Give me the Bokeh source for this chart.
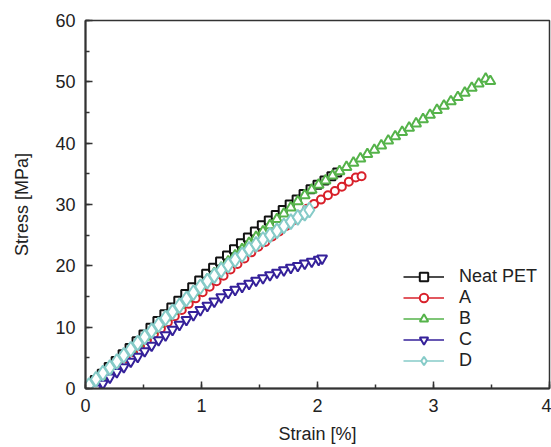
from bokeh.plotting import figure
from bokeh.models import Range1d, SingleIntervalTicker, Legend, LegendItem
from bokeh.embed import file_html
from bokeh.resources import INLINE

# ---- data ----
pet_x = [0.02, 0.08, 0.14, 0.20, 0.26, 0.32, 0.38, 0.44, 0.50, 0.56, 0.62, 0.68, 0.74, 0.80, 0.86, 0.92, 0.98,
         1.04, 1.10, 1.16, 1.22, 1.28, 1.34, 1.40, 1.46, 1.52, 1.58, 1.64, 1.70, 1.76, 1.82, 1.88, 1.94,
         2.00, 2.06, 2.12, 2.17]
pet_y = [0.3, 1.4, 2.4, 3.5, 4.5, 5.6, 6.6, 7.7, 8.8, 9.9, 11.0, 12.1, 13.2, 14.3, 15.4, 16.5, 17.6,
         18.7, 19.7, 20.7, 21.7, 22.7, 23.7, 24.6, 25.6, 26.6, 27.4, 28.3, 29.1, 30.0, 30.8, 31.7, 32.5,
         33.2, 33.9, 34.6, 35.2]

a_x = [0.05, 0.11, 0.17, 0.23, 0.29, 0.35, 0.41, 0.47, 0.53, 0.59, 0.65, 0.71, 0.77, 0.83, 0.89, 0.95,
       1.01, 1.07, 1.13, 1.19, 1.25, 1.31, 1.37, 1.43, 1.49, 1.55, 1.61, 1.67, 1.73, 1.79, 1.85, 1.91,
       1.97, 2.03, 2.09, 2.15, 2.21, 2.27, 2.33, 2.38]
a_y = [0.0, 0.9, 1.9, 2.9, 3.9, 4.9, 5.9, 6.9, 7.9, 8.9, 9.8, 10.8, 11.8, 12.8, 13.8, 14.7,
       15.7, 16.6, 17.5, 18.4, 19.4, 20.3, 21.2, 22.2, 23.1, 23.9, 24.8, 25.6, 26.5, 27.4, 28.2, 29.3,
       30.1, 30.8, 31.5, 32.2, 32.9, 33.7, 34.4, 34.6]

b_x = [0.03, 0.09, 0.15, 0.21, 0.27, 0.33, 0.39, 0.45, 0.51, 0.57, 0.63, 0.69, 0.75, 0.81, 0.87, 0.93, 0.99,
       1.05, 1.11, 1.17, 1.23, 1.29, 1.35, 1.41, 1.47, 1.53, 1.59, 1.65, 1.71, 1.77, 1.83, 1.89, 1.95,
       2.01, 2.07, 2.13, 2.19, 2.25, 2.31, 2.37, 2.43, 2.49, 2.55, 2.61, 2.67, 2.73, 2.79, 2.85, 2.91,
       2.97, 3.03, 3.09, 3.15, 3.21, 3.27, 3.33, 3.39, 3.45, 3.49]
b_y = [0.0, 1.0, 2.0, 3.0, 4.1, 5.1, 6.2, 7.3, 8.4, 9.5, 10.5, 11.6, 12.6, 13.6, 14.7, 15.7, 16.8,
       17.8, 18.8, 19.7, 20.7, 21.7, 22.7, 23.7, 24.7, 25.6, 26.6, 27.6, 28.5, 29.5, 30.5, 31.5, 32.4,
       33.2, 33.9, 34.7, 35.4, 36.1, 36.8, 37.5, 38.2, 38.9, 39.6, 40.4, 41.1, 41.8, 42.5, 43.2, 43.9,
       44.6, 45.4, 46.1, 46.8, 47.5, 48.2, 49.0, 49.7, 50.5, 50.1]

c_x = [0.09, 0.15, 0.21, 0.27, 0.33, 0.39, 0.45, 0.51, 0.57, 0.63, 0.69, 0.75, 0.81, 0.87, 0.93, 0.99,
       1.05, 1.11, 1.17, 1.23, 1.29, 1.35, 1.41, 1.47, 1.53, 1.59, 1.65, 1.71, 1.77, 1.83, 1.89, 1.95,
       2.01, 2.04]
c_y = [0.0, 0.8, 1.8, 2.7, 3.5, 4.4, 5.2, 6.1, 7.0, 7.9, 8.7, 9.6, 10.4, 11.2, 12.0, 12.8,
       13.5, 14.2, 14.9, 15.6, 16.1, 16.6, 17.1, 17.6, 18.0, 18.5, 18.9, 19.3, 19.7, 20.0, 20.4, 20.7,
       21.0, 21.2]

d_x = [0.03, 0.09, 0.15, 0.21, 0.27, 0.33, 0.39, 0.45, 0.51, 0.57, 0.63, 0.69, 0.75, 0.81, 0.87, 0.93,
       0.99, 1.05, 1.11, 1.17, 1.23, 1.29, 1.35, 1.41, 1.47, 1.53, 1.59, 1.65, 1.71, 1.77, 1.83, 1.89, 1.93]
d_y = [0.5, 1.5, 2.5, 3.4, 4.4, 5.4, 6.4, 7.4, 8.4, 9.4, 10.4, 11.5, 12.5, 13.5, 14.6, 15.6,
       16.6, 17.5, 18.4, 19.3, 20.1, 21.0, 21.8, 22.7, 23.5, 24.3, 25.0, 25.7, 26.5, 27.2, 27.9, 28.6, 29.1]

series_names = ["Neat PET", "A", "B", "C", "D"]
x_ticks = [0, 1, 2, 3, 4]
y_ticks = [0, 10, 20, 30, 40, 50, 60]

FONT = "Liberation Sans"

p = figure(width=551, height=447, output_backend="svg", toolbar_location=None,
           x_range=Range1d(0, 4), y_range=Range1d(0, 60),
           min_border_left=85, min_border_right=2, min_border_top=20, min_border_bottom=59)
p.grid.visible = False
p.background_fill_color = "white"
p.border_fill_color = "white"
p.outline_line_color = "#333333"
p.outline_line_width = 1.5

for ax, ticks, interval, label in ((p.xaxis[0], x_ticks, 1, "Strain [%]"),
                                   (p.yaxis[0], y_ticks, 10, "Stress [MPa]")):
    ax.ticker = SingleIntervalTicker(interval=interval, num_minor_ticks=2)
    ax.axis_label = label
    ax.axis_label_text_font = FONT
    ax.axis_label_text_font_size = "18px"
    ax.axis_label_text_font_style = "normal"
    ax.axis_label_text_color = "#222222"
    ax.major_label_text_font = FONT
    ax.major_label_text_font_size = "18px"
    ax.major_label_text_color = "#222222"
    ax.axis_line_width = 2
    ax.axis_line_color = "#333333"
    ax.major_tick_in = 7
    ax.major_tick_out = 0
    ax.minor_tick_in = 4
    ax.minor_tick_out = 0
    ax.major_tick_line_width = 1.5
    ax.minor_tick_line_width = 1.5
    ax.major_tick_line_color = "#333333"
    ax.minor_tick_line_color = "#333333"

p.xaxis.major_label_standoff = 10
p.xaxis.axis_label_standoff = 9
p.yaxis.major_label_standoff = 10
p.yaxis.axis_label_standoff = 20

specs = [
    (pet_x, pet_y, "#111111", "square", 8),
    (a_x, a_y, "#d8202a", "circle", 8),
    (b_x, b_y, "#55b34a", "triangle", 10),
    (c_x, c_y, "#35219a", "inverted_triangle", 10),
    (d_x, d_y, "#86cbc8", "diamond", 15),
]

items = []
for name, (xs, ys, col, mk, sz) in zip(series_names, specs):
    l = p.line(xs, ys, line_color=col, line_width=1.5)
    s = p.scatter(xs, ys, marker=mk, size=sz, line_color=col, line_width=2, fill_color="white")
    items.append(LegendItem(label=name, renderers=[l, s]))

legend = Legend(items=items, location=(318, 17))
legend.label_text_font = FONT
legend.label_text_font_size = "18px"
legend.label_text_color = "#222222"
legend.glyph_width = 41
legend.glyph_height = 21
legend.label_height = 21
legend.spacing = 0
legend.padding = 0
legend.margin = 0
legend.label_standoff = 15
legend.border_line_color = None
legend.background_fill_alpha = 0
p.add_layout(legend)

open("out.html", "w").write(file_html(p, INLINE))
